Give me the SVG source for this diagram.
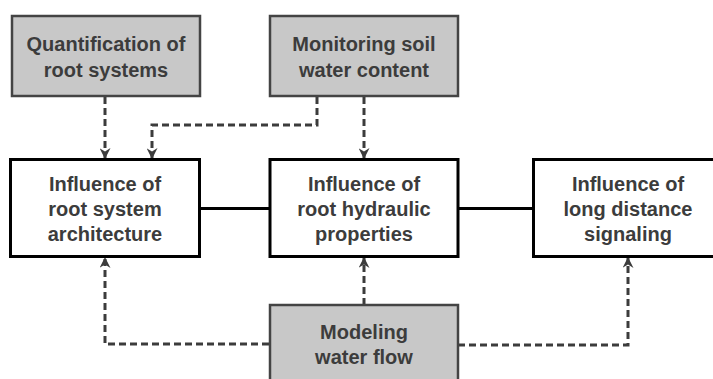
<svg xmlns="http://www.w3.org/2000/svg" width="713" height="379" viewBox="0 0 713 379">
  <defs>
    <marker id="arrow" viewBox="0 0 10 10" refX="9" refY="5" markerWidth="12" markerHeight="11" markerUnits="userSpaceOnUse" orient="auto">
      <path d="M0,0 L10,5 L0,10 L3,5 Z" fill="#3c3c3c"/>
    </marker>
    <style>
      .grey { fill: #c8c8c8; stroke: #444; stroke-width: 2.5; }
      .white { fill: #fff; stroke: #000; stroke-width: 3; }
      .label { font-family: "Liberation Sans", Arial, Helvetica, sans-serif; font-weight: bold; font-size: 20px; fill: #3c3c3c; text-anchor: middle; }
      .dash { fill: none; stroke: #3c3c3c; stroke-width: 3; stroke-dasharray: 7 4; marker-end: url(#arrow); }
      .solid { fill: none; stroke: #000; stroke-width: 3; }
    </style>
  </defs>
  <rect width="713" height="379" fill="#fff"/>

  <!-- connectors -->
  <g id="connectors">
    <line class="solid" x1="200" y1="208.5" x2="270" y2="208.5"/>
    <line class="solid" x1="458" y1="208.5" x2="533" y2="208.5"/>
    <path class="dash" d="M105,97 V158"/>
    <path class="dash" d="M317,97 V125 H152 V158"/>
    <path class="dash" d="M364,97 V158"/>
    <path class="dash" d="M364,305 V258"/>
    <path class="dash" d="M269,344 H105 V258"/>
    <path class="dash" d="M458,345 H628 V258"/>
  </g>

  <g id="quantification">
    <rect class="grey" x="12" y="16" width="188" height="80"/>
    <text class="label" x="106" y="51">Quantification of</text>
    <text class="label" x="106" y="77">root systems</text>
  </g>

  <g id="monitoring">
    <rect class="grey" x="270" y="16" width="188" height="80"/>
    <text class="label" x="364" y="51">Monitoring soil</text>
    <text class="label" x="364" y="77">water content</text>
  </g>

  <g id="architecture">
    <rect class="white" x="10.5" y="159.5" width="189" height="97"/>
    <text class="label" x="105" y="191">Influence of</text>
    <text class="label" x="105" y="216">root system</text>
    <text class="label" x="105" y="241">architecture</text>
  </g>

  <g id="hydraulic">
    <rect class="white" x="270" y="159.5" width="188" height="97"/>
    <text class="label" x="364" y="191">Influence of</text>
    <text class="label" x="364" y="216">root hydraulic</text>
    <text class="label" x="364" y="241">properties</text>
  </g>

  <g id="signaling">
    <rect class="white" x="533.5" y="159.5" width="182" height="97"/>
    <text class="label" x="628" y="191">Influence of</text>
    <text class="label" x="628" y="216">long distance</text>
    <text class="label" x="628" y="241">signaling</text>
  </g>

  <g id="modeling">
    <rect class="grey" x="270" y="305" width="188" height="90"/>
    <text class="label" x="364" y="339">Modeling</text>
    <text class="label" x="364" y="364">water flow</text>
  </g>
</svg>
